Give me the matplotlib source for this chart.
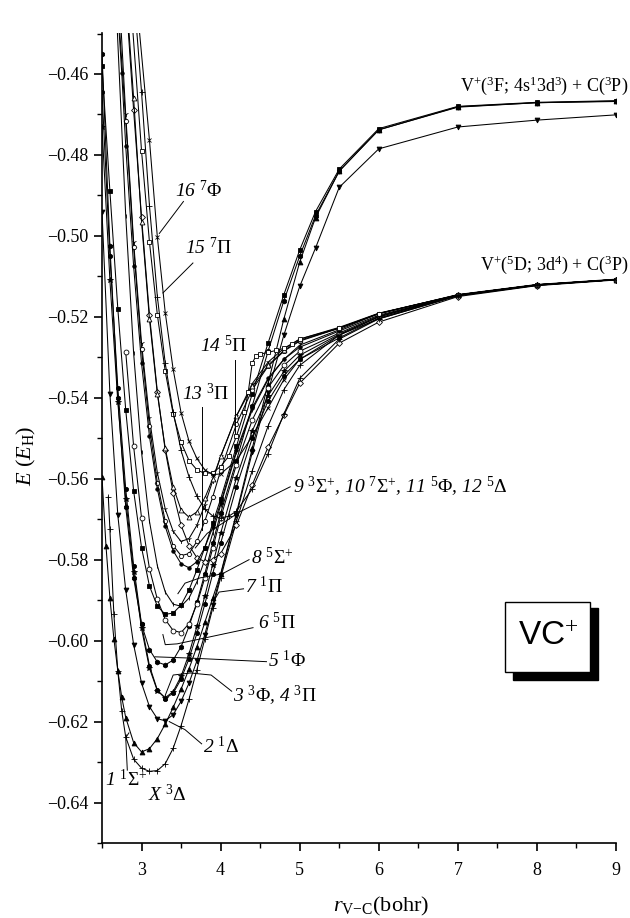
import matplotlib
matplotlib.use("Agg")
import matplotlib.pyplot as plt
from matplotlib.patches import Rectangle
from matplotlib.ticker import MultipleLocator

plt.rcParams['font.family'] = ['Liberation Serif', 'DejaVu Serif']
plt.rcParams['mathtext.fontset'] = 'custom'
plt.rcParams['mathtext.rm'] = 'Liberation Serif'
plt.rcParams['mathtext.it'] = 'Liberation Serif:italic'
plt.rcParams['mathtext.bf'] = 'Liberation Serif:bold'
plt.rcParams['mathtext.fallback'] = 'stix'

# ---------------- data (r in bohr, E in hartree) ----------------
r_X = [2.58, 2.6, 2.65, 2.7, 2.75, 2.8, 2.9, 3.0, 3.1, 3.2, 3.3, 3.4, 3.5, 3.6, 3.7, 3.8, 3.9, 4.0,
       4.2, 4.4, 4.6, 4.8, 5.0, 5.5, 6.0, 7.0, 8.0, 9.0]
E_X = [-0.5645, -0.5725, -0.5935, -0.6075, -0.6175, -0.6238, -0.6293, -0.6315, -0.6323, -0.6321,
       -0.6304, -0.6266, -0.6210, -0.6145, -0.6072, -0.5996, -0.5920, -0.5845,
       -0.5705, -0.5580, -0.5470, -0.5380, -0.5320, -0.5245, -0.5205, -0.5148, -0.5122, -0.5108]

r_1S = [2.5, 2.55, 2.6, 2.65, 2.7, 2.75, 2.8, 2.9, 3.0, 3.1, 3.2, 3.3, 3.4, 3.5, 3.6, 3.7, 3.8, 3.9, 4.0,
        4.2, 4.4, 4.6, 4.8, 5.0, 5.2, 5.5, 6.0, 7.0, 8.0, 9.0]
E_1S = [-0.5596, -0.5765, -0.5895, -0.5995, -0.6075, -0.6140, -0.6190, -0.6252, -0.6275, -0.6267,
        -0.6242, -0.6206, -0.6165, -0.6120, -0.6070, -0.6015, -0.5955, -0.5895, -0.5835,
        -0.5685, -0.5525, -0.5365, -0.5205, -0.5065, -0.4955, -0.4840, -0.4738, -0.4682, -0.4671, -0.4667]

r_2D = [2.5, 2.6, 2.7, 2.8, 2.9, 3.0, 3.1, 3.2, 3.3, 3.4, 3.5, 3.6, 3.7, 3.8, 3.9, 4.0,
        4.2, 4.4, 4.6, 4.8, 5.0, 5.2, 5.5, 6.0, 7.0, 8.0, 9.0]
E_2D = [-0.4940, -0.5390, -0.5690, -0.5875, -0.6010, -0.6105, -0.6163, -0.6193, -0.6198, -0.6183,
        -0.6150, -0.6105, -0.6050, -0.5985, -0.5912, -0.5838,
        -0.5690, -0.5535, -0.5385, -0.5245, -0.5125, -0.5030, -0.4880, -0.4785, -0.4731, -0.4714, -0.4701]

r_3F = [2.5, 2.6, 2.7, 2.8, 2.9, 3.0, 3.1, 3.2, 3.3, 3.4, 3.5, 3.6, 3.7, 3.8, 3.9, 4.0,
        4.2, 4.4, 4.6, 4.8, 5.0, 5.5, 6.0, 7.0, 8.0, 9.0]
E_3F = [-0.4644, -0.5050, -0.5375, -0.5625, -0.5815, -0.5960, -0.6062, -0.6122, -0.6143, -0.6130,
        -0.6095, -0.6045, -0.5982, -0.5910, -0.5835, -0.5760,
        -0.5620, -0.5500, -0.5408, -0.5345, -0.5305, -0.5252, -0.5203, -0.5147, -0.5122, -0.5108]

r_4P = [2.5, 2.6, 2.7, 2.8, 2.9, 3.0, 3.1, 3.2, 3.3, 3.4, 3.5, 3.6, 3.7, 3.8, 3.9, 4.0,
        4.2, 4.4, 4.6, 4.8, 5.0, 5.5, 6.0, 7.0, 8.0, 9.0]
E_4P = [-0.4730, -0.5110, -0.5410, -0.5650, -0.5830, -0.5970, -0.6068, -0.6124, -0.6141, -0.6126,
        -0.6088, -0.6033, -0.5965, -0.5890, -0.5812, -0.5735,
        -0.5598, -0.5482, -0.5395, -0.5335, -0.5295, -0.5243, -0.5200, -0.5146, -0.5121, -0.5108]

r_5F = [2.5, 2.6, 2.7, 2.8, 2.9, 3.0, 3.1, 3.2, 3.3, 3.4, 3.5, 3.6, 3.7, 3.8, 3.9, 4.0,
        4.2, 4.4, 4.6, 4.8, 5.0, 5.2, 5.5, 6.0, 7.0, 8.0, 9.0]
E_5F = [-0.4550, -0.5025, -0.5400, -0.5670, -0.5845, -0.5960, -0.6022, -0.6053, -0.6060, -0.6048,
        -0.6015, -0.5965, -0.5905, -0.5835, -0.5760, -0.5685,
        -0.5555, -0.5420, -0.5285, -0.5160, -0.5050, -0.4950, -0.4840, -0.4738, -0.4681, -0.4671, -0.4668]

r_6P = [2.8, 2.9, 3.0, 3.1, 3.2, 3.3, 3.4, 3.5, 3.6, 3.7, 3.8, 3.9, 4.0,
        4.2, 4.4, 4.6, 4.8, 5.0, 5.5, 6.0, 7.0, 8.0, 9.0]
E_6P = [-0.5287, -0.5520, -0.5697, -0.5822, -0.5898, -0.5948, -0.5975, -0.5980, -0.5958, -0.5910,
        -0.5845, -0.5772, -0.5697,
        -0.5565, -0.5455, -0.5375, -0.5320, -0.5285, -0.5240, -0.5198, -0.5146, -0.5121, -0.5108]

r_7P = [2.5, 2.6, 2.7, 2.8, 2.9, 3.0, 3.1, 3.2, 3.3, 3.4, 3.5, 3.6, 3.7, 3.8, 3.9, 4.0,
        4.2, 4.4, 4.6, 4.8, 5.0, 5.2, 5.5, 6.0, 7.0, 8.0, 9.0]
E_7P = [-0.4580, -0.4890, -0.5180, -0.5430, -0.5630, -0.5770, -0.5865, -0.5915, -0.5935, -0.5932,
        -0.5912, -0.5875, -0.5825, -0.5770, -0.5710, -0.5650,
        -0.5520, -0.5390, -0.5265, -0.5145, -0.5035, -0.4940, -0.4835, -0.4735, -0.4680, -0.4670, -0.4666]

r_8S = [2.68, 2.8, 2.9, 3.0, 3.1, 3.2, 3.3, 3.4, 3.5, 3.6, 3.7, 3.8, 3.9, 4.0,
        4.2, 4.4, 4.6, 4.8, 5.0, 5.5, 6.0, 7.0, 8.0, 9.0]
E_8S = [-0.4435, -0.4950, -0.5290, -0.5535, -0.5705, -0.5815, -0.5880, -0.5910, -0.5915, -0.5895,
        -0.5855, -0.5800, -0.5735, -0.5665,
        -0.5535, -0.5430, -0.5355, -0.5305, -0.5270, -0.5232, -0.5192, -0.5145, -0.5120, -0.5107]

r_9S = [2.73, 2.8, 2.9, 3.0, 3.1, 3.2, 3.3, 3.4, 3.5, 3.6, 3.7, 3.8, 3.9, 4.0,
        4.2, 4.4, 4.6, 4.8, 5.0, 5.5, 6.0, 7.0, 8.0, 9.0]
E_9S = [-0.4448, -0.4700, -0.5015, -0.5265, -0.5450, -0.5585, -0.5675, -0.5730, -0.5755, -0.5748,
        -0.5715, -0.5665, -0.5605, -0.5545,
        -0.5445, -0.5365, -0.5312, -0.5278, -0.5255, -0.5226, -0.5191, -0.5146, -0.5121, -0.5108]

r_10S = [2.82, 2.9, 3.0, 3.1, 3.2, 3.3, 3.4, 3.5, 3.6, 3.7, 3.8, 3.9, 4.0,
         4.2, 4.4, 4.6, 4.8, 5.0, 5.5, 6.0, 7.0, 8.0, 9.0]
E_10S = [-0.4458, -0.4690, -0.4954, -0.5195, -0.5385, -0.5530, -0.5635, -0.5715, -0.5765, -0.5795,
         -0.5805, -0.5800, -0.5785,
         -0.5715, -0.5615, -0.5522, -0.5443, -0.5364, -0.5265, -0.5213, -0.5150, -0.5123, -0.5109]

r_11F = [2.72, 2.8, 2.9, 3.0, 3.1, 3.2, 3.3, 3.4, 3.5, 3.6, 3.7, 3.8, 3.9, 4.0,
         4.2, 4.4, 4.6, 4.8, 5.0, 5.5, 6.0, 7.0, 8.0, 9.0]
E_11F = [-0.4482, -0.4716, -0.5027, -0.5280, -0.5470, -0.5610, -0.5705, -0.5765, -0.5790, -0.5785,
         -0.5755, -0.5705, -0.5645, -0.5580,
         -0.5465, -0.5380, -0.5322, -0.5285, -0.5260, -0.5228, -0.5192, -0.5146, -0.5121, -0.5108]

r_12D = [2.7, 2.75, 2.8, 2.9, 3.0, 3.1, 3.2, 3.3, 3.4, 3.5, 3.6, 3.7, 3.8, 3.9, 4.0,
         4.2, 4.4, 4.6, 4.8, 5.0, 5.5, 6.0, 7.0, 8.0, 9.0]
E_12D = [-0.4445, -0.4598, -0.4778, -0.5075, -0.5315, -0.5495, -0.5625, -0.5718, -0.5778, -0.5810,
         -0.5820, -0.5805, -0.5770, -0.5720, -0.5660,
         -0.5530, -0.5425, -0.5352, -0.5305, -0.5275, -0.5235, -0.5196, -0.5147, -0.5121, -0.5108]

r_13P = [2.82, 2.9, 3.0, 3.1, 3.2, 3.3, 3.4, 3.5, 3.6, 3.7, 3.8, 3.9, 4.0,
         4.2, 4.4, 4.6, 4.8, 5.0, 5.5, 6.0, 7.0, 8.0, 9.0]
E_13P = [-0.4436, -0.4660, -0.4965, -0.5205, -0.5390, -0.5525, -0.5620, -0.5677, -0.5695, -0.5682,
         -0.5648, -0.5600, -0.5545,
         -0.5445, -0.5372, -0.5320, -0.5283, -0.5258, -0.5228, -0.5192, -0.5146, -0.5121, -0.5108]

r_14P = [2.87, 3.0, 3.1, 3.2, 3.3, 3.4, 3.5, 3.6, 3.7, 3.8, 3.9, 4.0,
         4.1, 4.2, 4.3, 4.35, 4.4, 4.45, 4.5, 4.6, 4.7, 4.8, 4.9, 5.0,
         5.5, 6.0, 7.0, 8.0, 9.0]
E_14P = [-0.4439, -0.4790, -0.5015, -0.5195, -0.5335, -0.5440, -0.5510, -0.5555, -0.5578, -0.5587,
         -0.5585, -0.5570,
         -0.5545, -0.5495, -0.5435, -0.5385, -0.5314, -0.5296, -0.5292, -0.5288, -0.5283, -0.5278,
         -0.5268, -0.5255,
         -0.5228, -0.5192, -0.5146, -0.5121, -0.5108]

r_15P = [2.92, 3.0, 3.1, 3.2, 3.3, 3.4, 3.5, 3.6, 3.7, 3.8, 3.9, 4.0, 4.1,
         4.2, 4.4, 4.6, 4.8, 5.0, 5.5, 6.0, 7.0, 8.0, 9.0]
E_15P = [-0.4445, -0.4645, -0.4925, -0.5150, -0.5315, -0.5435, -0.5530, -0.5595, -0.5643, -0.5675,
         -0.5692, -0.5697, -0.5693,
         -0.5680, -0.5625, -0.5538, -0.5440, -0.5352, -0.5255, -0.5205, -0.5148, -0.5122, -0.5108]

r_16F = [2.96, 3.1, 3.2, 3.3, 3.4, 3.5, 3.6, 3.7, 3.8, 3.9, 4.0,
         4.2, 4.4, 4.6, 4.8, 5.0, 5.5, 6.0, 7.0, 8.0, 9.0]
E_16F = [-0.4466, -0.4763, -0.5003, -0.5190, -0.5330, -0.5437, -0.5507, -0.5550, -0.5578, -0.5590,
         -0.5588,
         -0.5555, -0.5495, -0.5425, -0.5355, -0.5305, -0.5245, -0.5200, -0.5147, -0.5121, -0.5108]

x_ticks = [3, 4, 5, 6, 7, 8, 9]
x_tick_labels = ['3', '4', '5', '6', '7', '8', '9']
y_ticks = [-0.64, -0.62, -0.60, -0.58, -0.56, -0.54, -0.52, -0.50, -0.48, -0.46]
y_tick_labels = ['\u22120.64', '\u22120.62', '\u22120.60', '\u22120.58', '\u22120.56',
                 '\u22120.54', '\u22120.52', '\u22120.50', '\u22120.48', '\u22120.46']

# ---------------- styles ----------------
curves = [
    (r_X, E_X, '+', 'k', 4.5),
    (r_1S, E_1S, '^', 'k', 3.5),
    (r_2D, E_2D, 'v', 'k', 3.5),
    (r_3F, E_3F, 'o', 'k', 3.0),
    (r_4P, E_4P, '*', 'k', 4.0),
    (r_5F, E_5F, 'h', 'k', 3.5),
    (r_6P, E_6P, 'o', 'white', 3.5),
    (r_7P, E_7P, 's', 'k', 3.0),
    (r_8S, E_8S, '|', 'k', 3.5),
    (r_9S, E_9S, '1', 'k', 3.5),
    (r_10S, E_10S, 'D', 'white', 3.0),
    (r_11F, E_11F, 'H', 'white', 3.3),
    (r_12D, E_12D, 'o', 'k', 2.5),
    (r_13P, E_13P, '^', 'white', 3.5),
    (r_14P, E_14P, 's', 'white', 3.3),
    (r_15P, E_15P, '+', 'k', 4.0),
    (r_16F, E_16F, 'x', 'k', 3.5),
]

fig = plt.figure(figsize=(6.3, 9.18), dpi=100)
ax = fig.add_axes([102 / 630, 75 / 918, 514 / 630, 809.5 / 918])

for r, E, m, fc, ms in curves:
    ax.plot(r, E, color='k', lw=0.75, marker=m, ms=ms, mfc=fc, mec='k', mew=0.6)

ax.set_xlim(2.5, 9.0)
ax.set_ylim(-0.65, -0.45)
for s in ['top', 'right']:
    ax.spines[s].set_visible(False)
for s in ['left', 'bottom']:
    ax.spines[s].set_linewidth(1.2)

ax.set_xticks(x_ticks)
ax.set_xticklabels(x_tick_labels)
ax.set_yticks(y_ticks)
ax.set_yticklabels(y_tick_labels)
ax.xaxis.set_minor_locator(MultipleLocator(0.5))
ax.yaxis.set_minor_locator(MultipleLocator(0.01))
ax.tick_params(which='major', direction='out', length=6, width=1.2, labelsize=13)
ax.tick_params(which='minor', direction='out', length=3.5, width=1.0)
ax.tick_params(axis='x', pad=8)
ax.tick_params(axis='y', pad=4)

# ---------------- annotations ----------------
fs = 14
lw_lead = 0.7
labels = [
    (3.42, -0.4887, r'16 ${}^{7}\Phi$', [(3.53, -0.4915), (3.225, -0.4994)]),
    (3.55, -0.5028, r'15 ${}^{7}\Pi$', [(3.65, -0.5067), (3.27, -0.5141)]),
    (3.74, -0.5272, r'14 ${}^{5}\Pi$', [(4.18, -0.5306), (4.18, -0.5487)]),
    (3.51, -0.5390, r'13 ${}^{3}\Pi$', [(3.77, -0.5422), (3.77, -0.5727)]),
    (4.92, -0.5620, r'9 ${}^{3}\Sigma^{+}$, 10 ${}^{7}\Sigma^{+}$, 11 ${}^{5}\Phi$, 12 ${}^{5}\Delta$',
     [(4.88, -0.5620), (4.25, -0.5681), (3.83, -0.5735), (3.68, -0.5771)]),
    (4.39, -0.5794, r'8 ${}^{5}\Sigma^{+}$',
     [(4.36, -0.5800), (4.02, -0.5835), (3.74, -0.5845), (3.55, -0.5858), (3.46, -0.5884)]),
    (4.31, -0.5867, r'7 ${}^{1}\Pi$', [(4.29, -0.5872), (3.98, -0.5880), (3.92, -0.5900)]),
    (4.47, -0.5956, r'6 ${}^{5}\Pi$',
     [(4.41, -0.5968), (3.45, -0.6008), (3.30, -0.6010), (3.27, -0.5985)]),
    (4.60, -0.6050, r'5 ${}^{1}\Phi$', [(4.58, -0.6052), (3.60, -0.6043), (3.17, -0.6040)]),
    (4.16, -0.6137, r'3 ${}^{3}\Phi$, 4 ${}^{3}\Pi$',
     [(4.14, -0.6125), (3.88, -0.6085), (3.62, -0.6080), (3.40, -0.6085), (3.30, -0.6135)]),
    (3.78, -0.6262, r'2 ${}^{1}\Delta$', [(3.76, -0.6255), (3.55, -0.6220), (3.35, -0.6200)]),
    (2.54, -0.6344, r'1 ${}^{1}\Sigma^{+}$', [(2.82, -0.6320), (2.80, -0.6240), (2.84, -0.6228)]),
    (3.08, -0.6380, r'X ${}^{3}\Delta$', None),
]
for x, y, txt, lead in labels:
    ax.text(x, y, txt, fontsize=fs, ha='left', va='center', style='italic')
    if lead:
        ax.plot([p[0] for p in lead], [p[1] for p in lead], color='k', lw=lw_lead, clip_on=False)

ax.text(9.16, -0.4630, r'V$^{+}$($^{3}$F; 4s$^{1}$3d$^{3}$) + C($^{3}$P)', fontsize=13,
        ha='right', va='center', clip_on=False)
ax.text(9.16, -0.5072, r'V$^{+}$($^{5}$D; 3d$^{4}$) + C($^{3}$P)', fontsize=13,
        ha='right', va='center', clip_on=False)

# VC+ box with shadow
ax.add_patch(Rectangle((7.703, -0.60973), 8.778 - 7.703, 0.60973 - 0.59194,
                       facecolor='k', edgecolor='k', lw=1.0, zorder=5))
ax.add_patch(Rectangle((7.601, -0.60775), 8.677 - 7.601, 0.60775 - 0.59046,
                       facecolor='white', edgecolor='k', lw=1.0, zorder=6))
ax.text(8.139, -0.5991, 'VC$^{+}$', fontsize=24, family=['Liberation Sans', 'DejaVu Sans'],
        ha='center', va='center', zorder=7)

fig.text(26 / 630, 1 - 456 / 918, r'$E\ (E_{\mathrm{H}})$', rotation=90, fontsize=16,
         ha='center', va='center')
fig.text(333 / 630, 1 - 906 / 918, r'$r_{\mathrm{V{-}C}}$(bohr)', fontsize=16,
         ha='left', va='center')

fig.savefig('out.png', dpi=100)
